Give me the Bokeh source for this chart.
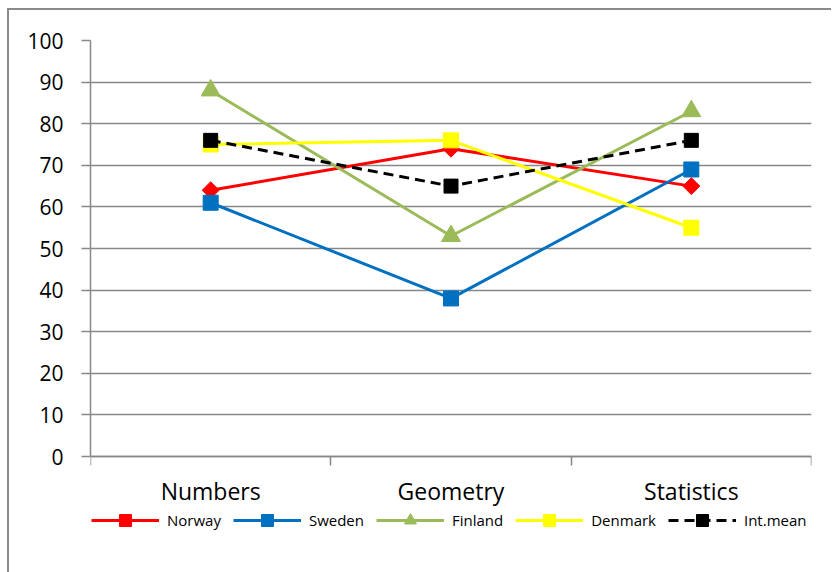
import math
from bokeh.plotting import figure
from bokeh.models import Range1d, FixedTicker, LinearAxis, Legend, LegendItem
from bokeh.embed import file_html
from bokeh.resources import INLINE

categories = ["Numbers", "Geometry", "Statistics"]
norway = [64, 74, 65]
sweden = [61, 38, 69]
finland = [88, 53, 83]
denmark = [75, 76, 55]
int_mean = [76, 65, 76]
y_ticks = [0, 10, 20, 30, 40, 50, 60, 70, 80, 90, 100]

FONT = "Open Sans"
GRID = "#888888"

xs = [i + 0.5 for i in range(len(categories))]
bounds = list(range(len(categories) + 1))

p = figure(frame_width=721, frame_height=498, output_backend="svg", toolbar_location=None,
           x_range=Range1d(0, 3), y_range=Range1d(-19.7, 100),
           min_border_left=81, min_border_right=20, min_border_top=30, min_border_bottom=34,
           x_axis_location=None, y_axis_location=None)
p.styles = {"margin-top": "8px", "margin-left": "7px",
            "border-top": "2px solid #8a8a8a", "border-left": "2px solid #8a8a8a"}
p.outline_line_color = None
p.background_fill_color = "white"
p.border_fill_color = "white"

yax = LinearAxis(ticker=FixedTicker(ticks=y_ticks), bounds=(0, 100))
yax.axis_line_color = GRID
yax.axis_line_width = 1.5
yax.major_tick_line_color = GRID
yax.major_tick_line_width = 1.5
yax.major_tick_out = 9
yax.major_tick_in = 0
yax.minor_tick_line_color = None
yax.major_label_standoff = 18
yax.major_label_text_font = FONT
yax.major_label_text_font_size = "21px"
yax.major_label_text_color = "black"
p.add_layout(yax, "left")

xax = LinearAxis(ticker=FixedTicker(ticks=xs, minor_ticks=bounds), fixed_location=0)
xax.axis_line_color = GRID
xax.axis_line_width = 1.5
xax.major_tick_line_color = None
xax.major_tick_out = 0
xax.major_tick_in = 0
xax.minor_tick_line_color = GRID
xax.minor_tick_line_width = 1.5
xax.minor_tick_out = 9
xax.minor_tick_in = 0
xax.major_label_overrides = {x: c for x, c in zip(xs, categories)}
xax.major_label_text_font = FONT
xax.major_label_text_font_size = "23px"
xax.major_label_text_color = "black"
xax.major_label_standoff = 9
p.add_layout(xax, "below")

p.xgrid.visible = False
p.ygrid.ticker = FixedTicker(ticks=y_ticks)
p.ygrid.grid_line_color = GRID
p.ygrid.grid_line_width = 1.5

series = [
    ("Norway", norway, "#ff0000", "square", 12, math.pi / 4, None),
    ("Sweden", sweden, "#0070c0", "square", 15, 0, None),
    ("Finland", finland, "#9bbb59", "triangle", 19, 0, None),
    ("Denmark", denmark, "#ffff00", "square", 15, 0, None),
    ("Int.mean", int_mean, "#000000", "square", 14, 0, "10 6"),
]

items = []
for name, vals, color, marker, size, angle, dash in series:
    kw = {}
    if dash:
        kw["line_dash"] = dash
    r1 = p.line(xs, vals, line_color=color, line_width=3, **kw)
    r2 = p.scatter(xs, vals, marker=marker, size=size, angle=angle,
                   fill_color=color, line_color=color)
    items.append(LegendItem(label=name, renderers=[r1, r2]))

legend = Legend(items=items, orientation="horizontal", location=(1, 3))
legend.label_text_font = FONT
legend.label_text_font_size = "15px"
legend.label_text_color = "black"
legend.glyph_width = 68
legend.glyph_height = 30
legend.label_standoff = 8
legend.spacing = 12
legend.padding = 0
legend.margin = 0
legend.border_line_color = None
legend.background_fill_alpha = 0
p.add_layout(legend, "center")

open("out.html", "w").write(file_html(p, INLINE))
